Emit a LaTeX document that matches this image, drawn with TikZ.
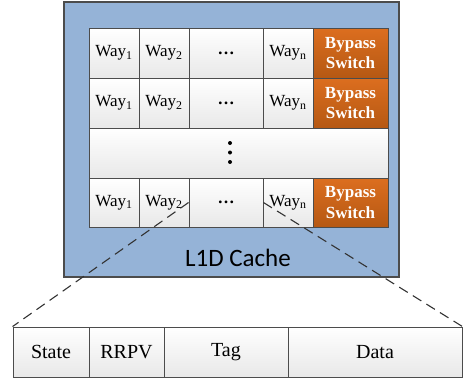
\documentclass[tikz,border=0pt]{standalone}
\usepackage{fontspec}
\setmainfont{Liberation Serif}
\newfontfamily\calib{Carlito}
\begin{document}
\begin{tikzpicture}[x=1pt,y=-1pt,
  cell/.style={draw=black!70, line width=0.9pt, inner sep=0pt, top color=white, bottom color=black!9,
    font=\fontsize{17}{20}\selectfont},
  bypass/.style={draw=black!70, line width=0.9pt, inner sep=0pt, top color=orange1, bottom color=orange2,
    text=white, font=\fontsize{17}{20.5}\selectfont\bfseries, align=center},
  field/.style={draw=black!70, line width=0.9pt, inner sep=0pt, top color=white, bottom color=black!9,
    font=\fontsize{20}{24}\selectfont},
  vdot/.style={fill=black, circle, inner sep=0pt, minimum size=4pt},
  zoomline/.style={black!80, line width=1.1pt, dash pattern=on 10pt off 6pt}]
\definecolor{orange1}{HTML}{DC6E1F}
\definecolor{orange2}{HTML}{B55813}
\definecolor{cacheblue}{HTML}{95B3D7}
\useasboundingbox (0,0) rectangle (463,383);
% outer cache box
\node[draw=black!70, line width=1.1pt, fill=cacheblue, inner sep=0pt, minimum width=335, minimum height=275] (cache) at (231.5,139.5) {};
\node[font=\calib\fontsize{25}{28}\selectfont] (label) at (238,258) {L1D Cache};
% row 1
\node[cell, minimum width=50, minimum height=50] (a1) at (114,53) {Way\textsubscript{1}};
\node[cell, minimum width=50, minimum height=50] (a2) at (164,53) {Way\textsubscript{2}};
\node[cell, minimum width=74, minimum height=50] (a3) at (226,53) {\textbf{…}};
\node[cell, minimum width=50, minimum height=50] (a4) at (288,53) {Way\textsubscript{n}};
\node[bypass, minimum width=75, minimum height=50] (a5) at (350.5,53) {Bypass\\Switch};
% row 2
\node[cell, minimum width=50, minimum height=50] (b1) at (114,103) {Way\textsubscript{1}};
\node[cell, minimum width=50, minimum height=50] (b2) at (164,103) {Way\textsubscript{2}};
\node[cell, minimum width=74, minimum height=50] (b3) at (226,103) {\textbf{…}};
\node[cell, minimum width=50, minimum height=50] (b4) at (288,103) {Way\textsubscript{n}};
\node[bypass, minimum width=75, minimum height=50] (b5) at (350.5,103) {Bypass\\Switch};
% middle row
\node[cell, minimum width=299, minimum height=50] (mid) at (238.5,153) {};
\node[vdot] (d1) at (230,143) {};
\node[vdot] (d2) at (230,152.5) {};
\node[vdot] (d3) at (230,162) {};
% last row
\node[cell, minimum width=50, minimum height=49] (c1) at (114,202.5) {Way\textsubscript{1}};
\node[cell, minimum width=50, minimum height=49] (c2) at (164,202.5) {Way\textsubscript{2}};
\node[cell, minimum width=74, minimum height=49] (c3) at (226,202.5) {\textbf{…}};
\node[cell, minimum width=50, minimum height=49] (c4) at (288,202.5) {Way\textsubscript{n}};
\node[bypass, minimum width=75, minimum height=49] (c5) at (350.5,202.5) {Bypass\\Switch};
% bottom fields
\node[field, minimum width=76, minimum height=50] (state) at (51,352) {State};
\node[field, minimum width=75, minimum height=50] (rrpv) at (126.5,352) {RRPV};
\node[field, minimum width=124, minimum height=50] (tag) at (226,352) {Tag};
\node[field, minimum width=174, minimum height=50] (data) at (375,352) {Data};
% zoom lines
\draw[zoomline] (c3.west) -- (state.north west);
\draw[zoomline] (c3.east) -- (data.north east);
\end{tikzpicture}
\end{document}
